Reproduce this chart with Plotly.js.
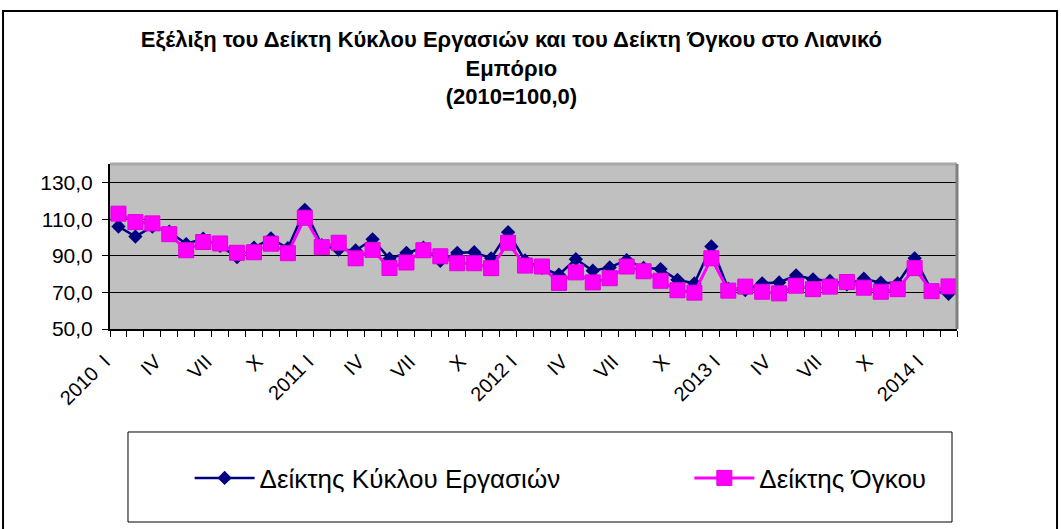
<!DOCTYPE html>
<html>
<head>
<meta charset="utf-8">
<script src="https://cdn.plot.ly/plotly-3.0.1.min.js"></script>
<style>html,body{margin:0;padding:0;background:#fff;}#chart{width:1061px;height:529px;}</style>
</head>
<body>
<div id="chart"></div>
<script>
// Monthly data, 2010 I .. 2014 II
const turnoverIndex = [106.1, 100.6, 106.0, 103.3, 96.5, 99.5, 95.5, 89.3, 94.5, 99.6, 94.2, 115.2,
  95.9, 93.5, 93.0, 99.1, 88.5, 91.7, 94.5, 87.3, 91.7, 92.0, 88.7, 103.0,
  87.5, 83.5, 79.7, 88.2, 81.9, 83.7, 87.7, 83.5, 82.8, 76.9, 75.0, 95.2,
  72.0, 71.3, 75.0, 75.5, 79.4, 77.2, 76.3, 74.5, 77.5, 75.3, 75.0, 88.7,
  71.0, 69.3];
const volumeIndex = [113.1, 108.5, 107.8, 101.9, 93.1, 97.6, 96.8, 91.7, 92.0, 96.7, 91.5, 110.9,
  94.8, 97.2, 88.7, 93.3, 83.4, 86.4, 93.1, 89.8, 86.0, 86.0, 83.3, 97.2,
  84.7, 84.2, 75.2, 81.0, 75.5, 77.8, 84.2, 81.6, 76.4, 71.2, 69.9, 88.7,
  71.0, 73.2, 70.4, 69.5, 73.7, 71.8, 73.2, 75.7, 72.6, 70.4, 71.8, 83.3,
  70.7, 73.3];
const tickLabels = ["2010\u00a0 I","IV","VII","X","2011 I","IV","VII","X","2012 I","IV","VII","X","2013 I","IV","VII","X","2014 I"];
const tickStep = 3;
const seriesNames = ["Δείκτης Κύκλου Εργασιών", "Δείκτης Όγκου"];
const yTicks = [50, 70, 90, 110, 130];

const xIdx = turnoverIndex.map((_, i) => i);
const tickVals = tickLabels.map((_, i) => i * tickStep);

const FONT = "Liberation Sans, Arial, sans-serif";

const traces = [
  {
    x: xIdx, y: turnoverIndex, name: seriesNames[0], type: "scatter", mode: "lines+markers",
    line: {color: "#000080", width: 2.5},
    marker: {symbol: "diamond", size: 11, color: "#000080"},
    legend: "legend"
  },
  {
    x: xIdx, y: volumeIndex, name: seriesNames[1], type: "scatter", mode: "lines+markers",
    line: {color: "#FF00FF", width: 3},
    marker: {symbol: "square", size: 15, color: "#FF00FF", line: {color: "#E000E0", width: 1}},
    legend: "legend2"
  }
];

const legendCommon = {
  orientation: "h", xanchor: "left", y: -0.903, yanchor: "middle",
  font: {family: FONT, size: 26, color: "#000"},
  itemwidth: 60, bgcolor: "rgba(0,0,0,0)", borderwidth: 0
};

const layout = {
  width: 1061, height: 529,
  margin: {l: 110, r: 104, t: 164, b: 200, pad: 0},
  paper_bgcolor: "#ffffff",
  plot_bgcolor: "#C0C0C0",
  separators: ",.",
  font: {family: FONT, color: "#000", size: 19},
  title: {
    text: "Εξέλιξη του Δείκτη Κύκλου Εργασιών και του Δείκτη Όγκου στο Λιανικό<br>Εμπόριο<br>(2010=100,0)",
    font: {family: FONT, size: 22, color: "#000", weight: "bold"},
    x: 0.482, xref: "container", xanchor: "center",
    y: 0.911, yref: "container", yanchor: "middle"
  },
  xaxis: {
    range: [-0.5, turnoverIndex.length - 0.5],
    tickmode: "array", tickvals: tickVals, ticktext: tickLabels,
    tickangle: -45, ticks: "", ticklabelstandoff: 11, ticklabelshift: -14,
    tickfont: {family: FONT, size: 20, color: "#000"},
    showgrid: false, zeroline: false,
    showline: true, linecolor: "#000", linewidth: 2,
    minor: {ticks: "outside", tick0: -0.5, dtick: 1, ticklen: 6, tickcolor: "#000", tickwidth: 1, showgrid: false}
  },
  yaxis: {
    range: [50, 140.3],
    tickmode: "array", tickvals: yTicks, tickformat: ".1f",
    ticks: "outside", ticklen: 6, tickcolor: "#000", ticklabelstandoff: 5,
    tickfont: {family: FONT, size: 21, color: "#000"},
    showgrid: true, gridcolor: "#000", gridwidth: 1,
    zeroline: false, showline: true, linecolor: "#000", linewidth: 2
  },
  showlegend: true,
  legend: Object.assign({}, legendCommon, {x: 0.094}),
  legend2: Object.assign({}, legendCommon, {x: 0.684}),
  shapes: [
    {type: "line", xref: "paper", yref: "paper", x0: 0, x1: 1, y0: 1, y1: 1, line: {color: "#A8A8A8", width: 3}},
    {type: "line", xref: "paper", yref: "paper", x0: 1, x1: 1, y0: 0, y1: 1, line: {color: "#808080", width: 3}},
    {type: "rect", xref: "paper", yref: "paper", x0: 0.02125, x1: 0.9941, y0: -1.1697, y1: -0.6242, line: {color: "#000", width: 1}, fillcolor: "rgba(0,0,0,0)"},
    {type: "rect", xref: "paper", yref: "paper", x0: -0.1263, x1: 1.1181, y0: -1.3, y1: 1.927, line: {color: "#000", width: 2}, fillcolor: "rgba(0,0,0,0)"}
  ]
};

Plotly.newPlot("chart", traces, layout, {displayModeBar: false, staticPlot: true});
</script>
</body>
</html>
